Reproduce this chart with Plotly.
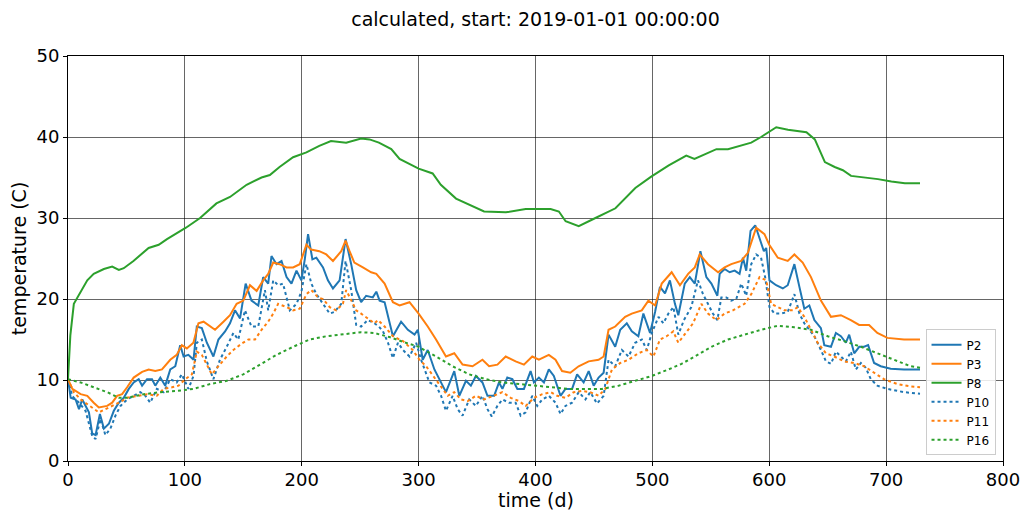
import plotly.graph_objects as go

# ---------------- data ----------------
P2_day = [0, 2.3, 6.5, 9.4, 12.2, 15, 17.9, 20.7, 23.6, 27.3, 30.7, 35, 39.2, 43.5, 47.7, 52, 56.2, 60.5, 63.4, 67.6,
          71.9, 74.7, 79, 83.2, 87.5, 91.8, 96, 98.9, 103, 107.4, 110.2, 114.5, 118.8, 124.4, 128.7, 134.4, 138.6, 142.9,
          147.2, 152, 157, 162.8, 167, 171.3, 174.1, 178.4, 182.7, 187, 191.2, 195.5, 199.7, 202.6, 205.4, 209.1, 212.5,
          218.2, 222.4, 226.7, 232.4, 237.5, 242.3, 246.6, 250.8, 255.1, 260.8, 263.8, 266.6, 270.9, 278, 285, 290.8,
          296.5, 299.3, 303.5, 307.8, 313.5, 319.2, 323.4, 330.5, 334.8, 340.5, 344.7, 349, 354.6, 358.9, 364.6, 368.8,
          371.7, 375.9, 380.2, 384.5, 390.1, 395.8, 398.7, 402.9, 407.2, 411.4, 415.7, 421.4, 425.6, 431.3, 435.6, 441.2,
          445.5, 449.8, 454, 458.3, 462.5, 468.2, 472.5, 478.1, 482.4, 488, 492.3, 498, 502.3, 506.5, 510.8, 515, 519.3,
          522.2, 527.7, 532, 536.3, 541.1, 546.2, 550.5, 555.6, 557.6, 561.8, 566.1, 570.4, 574.6, 577.5, 580.3, 584,
          588, 591.7, 595.4, 597.4, 600.2, 605.9, 611.6, 615.8, 621.5, 625.8, 630, 634.3, 638.6, 644.2, 647.1, 652.8,
          657, 661.3, 665.6, 668.4, 672.7, 677, 681.2, 684.6, 689.7, 695.4, 703.9, 715.3, 729]
P2_val = [10.1, 7.8, 7.6, 6.4, 7.6, 6.8, 6.0, 3.4, 3.2, 5.8, 4.0, 4.6, 6.2, 7.2, 7.8, 8.9, 9.7, 10.1, 9.3, 10.1,
          10.1, 9.3, 10.3, 9.3, 11.3, 11.7, 14.3, 12.9, 13.1, 12.5, 16.6, 16.4, 14.6, 12.9, 15.0, 16.0, 17.0, 18.6,
          17.6, 21.9, 19.8, 19.2, 22.7, 21.9, 25.3, 24.3, 24.7, 22.7, 21.9, 23.5, 22.3, 24.9, 28.0, 24.9, 25.1,
          23.9, 22.3, 21.3, 22.3, 27.4, 24.3, 21.1, 19.6, 20.4, 20.2, 20.9, 19.8, 19.6, 15.4, 17.2, 16.2,
          15.6, 16.2, 12.5, 13.7, 11.3, 9.7, 8.5, 11.1, 8.05, 9.9, 9.3, 10.5, 9.7, 8.05, 8.05, 9.7,
          8.9, 10.3, 10.1, 8.9, 8.9, 11.1, 9.7, 10.3, 9.7, 11.3, 10.5, 8.05, 8.9, 8.9, 10.7, 9.7,
          11.1, 9.3, 10.3, 10.9, 15.6, 14.1, 16.2, 17.0, 16.0, 15.4, 18.2, 15.8, 18.4, 21.5, 20.7, 22.3, 19.4,
          18.0, 21.9, 22.7, 21.9, 25.9, 22.7, 21.9, 20.4, 23.1, 23.7, 23.3, 23.5, 23.1, 25.1, 23.5, 28.4,
          29.1, 27.6, 25.9, 26.3, 22.3, 21.7, 21.3, 21.7, 24.3, 21.5, 18.8, 19.2, 17.4, 16.4, 14.3, 14.1,
          15.8, 15.4, 14.6, 15.6, 13.3, 14.1, 14.1, 14.3, 12.1, 11.7, 11.4, 11.3, 11.3]

P3_day = [0, 3.7, 10.8, 16.5, 22, 26.4, 33.5, 37.8, 42, 46.3, 50.6, 56.2, 63.4, 69, 74.7, 80.4, 87.5, 93, 97.4, 101.7,
          107.3, 111.6, 116, 121.6, 125.8, 133, 138.6, 144.3, 150, 155.7, 161.4, 167, 171.3, 175.6, 181, 187, 192.6,
          198.3, 204, 208, 215, 221, 226.7, 233.8, 237.5, 240.9, 245, 252.3, 259.4, 263.8, 270.9, 278, 283.7, 292.2,
          300, 307.8, 314.9, 323.4, 330.5, 337.6, 346.1, 354.6, 360.3, 367.4, 374.5, 383, 390.1, 397.2, 402.9, 411.4,
          417.1, 422.7, 429.8, 436.9, 445.5, 454, 458.3, 462.5, 468.2, 476.7, 482.4, 490.9, 496.6, 502.3, 508, 516.5,
          523.6, 530.6, 536.3, 540.5, 547.6, 556.2, 561.8, 567.5, 576, 581.7, 588.8, 595.9, 600, 607.3, 615.8, 621.5,
          628.6, 635.7, 644.2, 652.8, 661.3, 669.8, 676.9, 685.4, 692.5, 701.1, 715.3, 729]
P3_val = [10.1, 8.9, 8.25, 8.05, 7.2, 6.6, 6.8, 7.2, 8.05, 8.25, 9.1, 10.3, 11.0, 11.3, 11.1, 11.3, 12.5, 13.1, 14.3, 13.9,
          14.6, 17.0, 17.2, 16.6, 16.2, 17.2, 18.0, 19.4, 19.8, 21.7, 21.0, 22.3, 23.1, 24.5, 24.3, 23.9, 23.9,
          24.3, 26.7, 26.1, 25.9, 25.5, 24.7, 25.9, 27.2, 25.9, 24.5, 23.9, 23.3, 23.1, 21.9, 19.6, 19.2, 19.6,
          18.2, 16.6, 15.0, 12.9, 13.3, 11.9, 11.7, 12.5, 11.7, 11.9, 12.9, 12.3, 11.9, 12.9, 12.5, 13.1,
          12.5, 11.1, 10.9, 11.7, 12.3, 12.5, 12.9, 16.2, 16.6, 17.8, 18.2, 18.6, 19.8, 19.2, 21.9, 23.3,
          21.7, 23.1, 23.9, 25.5, 24.3, 23.3, 23.9, 24.3, 24.7, 25.7, 28.8, 28.0, 26.7, 25.1, 24.7, 25.5,
          24.5, 22.7, 19.8, 17.8, 18.0, 17.4, 16.8, 16.8, 15.8, 15.2, 15.0, 15.0]

P8_day = [0, 2, 5, 11, 16.5, 22, 30.7, 37.8, 43.5, 47.7, 56, 69, 77.6, 84.7, 100.9, 113, 127, 138.6, 152.8, 165.6,
          172.7, 181, 192.6, 204, 215, 225, 238, 250.8, 258, 266, 276.6, 283.7, 300, 312, 319, 332, 343.5, 356, 374.6,
          391.6, 412.9, 420, 425.8, 437, 451.3, 468.4, 485.4, 499, 514, 529, 536, 544.8, 554.8, 564.7, 573, 584.6, 593,
          606, 616, 624.8, 631.8, 639, 647.6, 656, 663, 670, 681.7, 693, 704.5, 716, 729]
P8_val = [10.1, 15.5, 19.4, 21.0, 22.3, 23.1, 23.7, 24.0, 23.6, 23.8, 24.7, 26.3, 26.7, 27.4, 28.8, 30.0, 31.8, 32.6, 34.1,
          35.0, 35.3, 36.3, 37.5, 38.1, 38.9, 39.5, 39.3, 39.8, 39.7, 39.3, 38.5, 37.3, 36.1, 35.5, 34.1, 32.4, 31.6,
          30.8, 30.7, 31.1, 31.1, 30.8, 29.6, 29.0, 30.0, 31.2, 33.7, 35.1, 36.5, 37.7, 37.3, 37.9, 38.5, 38.5, 38.8,
          39.3, 40.0, 41.2, 40.9, 40.7, 40.6, 39.7, 36.9, 36.3, 35.9, 35.2, 35.0, 34.8, 34.5, 34.3, 34.3]

P10_day = [0, 3.7, 9.4, 15, 20.7, 23.6, 27.8, 32, 36.3, 40.6, 44.9, 50.6, 56.2, 61.9, 66.2, 70.4, 76, 81.8, 87.5, 93,
           97.4, 103, 107.4, 110.2, 114.5, 118.8, 124.4, 130, 135.8, 141.5, 145.7, 151.4, 157, 162.8, 168.5, 171.3,
           175.6, 179.8, 184, 189.8, 195.5, 199.7, 204, 208.2, 212.5, 218.2, 223.9, 228, 233.8, 237.5, 242.3, 246.6,
           250.8, 256.5, 262.2, 266, 269.5, 273.8, 278, 282.3, 286.6, 292.2, 297.9, 302.1, 305, 309.2, 314.9, 319.2,
           323.4, 329.1, 333.4, 337.6, 343.3, 349, 354.6, 358.9, 362.6, 367.4, 371.7, 377.3, 383, 387.3, 391.6, 397.2,
           401.5, 405.8, 411.4, 417.1, 421.4, 425.6, 431.3, 437, 442.7, 446.9, 452.6, 458.3, 462.5, 468.2, 473.9,
           479.6, 485.3, 491, 495.2, 499.5, 505.2, 509.4, 513.7, 518, 522.2, 527, 533.3, 539, 543.3, 547.6, 551.8,
           555.6, 559, 563.2, 567.5, 571.8, 576, 580.3, 584.6, 588.8, 593, 596.5, 600.2, 604.5, 610.2, 615.8, 621.5,
           625.8, 630, 634.3, 638.6, 644.2, 648.5, 652.8, 657, 661.3, 665.6, 669.8, 674.1, 678.4, 682.6, 686.9, 692.5,
           701.1, 715.3, 729]
P10_val = [10.1, 8.0, 7.2, 6.2, 3.1, 2.7, 5.2, 3.2, 4.0, 5.6, 6.8, 7.6, 8.05, 8.5, 8.05, 7.2, 8.9, 8.5, 10.1, 9.7,
           10.7, 8.9, 10.5, 14.6, 15.0, 12.3, 10.1, 12.5, 14.1, 15.8, 15.0, 18.6, 16.6, 16.6, 21.1, 18.6,
           22.3, 21.7, 21.9, 18.6, 19.4, 20.9, 24.3, 21.9, 20.6, 19.4, 18.2, 18.4, 19.4, 24.7, 21.1, 16.8,
           16.6, 17.4, 17.0, 16.6, 16.0, 14.6, 12.7, 14.6, 13.7, 12.9, 14.6, 12.5, 11.3, 9.7, 9.3, 8.05,
           6.2, 8.05, 6.4, 5.6, 7.6, 6.8, 8.05, 6.4, 5.5, 6.8, 7.6, 7.2, 7.2, 5.6, 6.0, 8.05,
           6.8, 7.6, 8.05, 7.2, 5.8, 6.8, 7.2, 8.5, 7.6, 8.5, 7.1, 8.05, 12.5, 11.7, 13.7,
           12.9, 14.6, 15.0, 13.7, 15.8, 17.8, 17.0, 18.2, 19.0, 15.6, 17.4, 19.0, 22.3, 20.6, 19.4, 18.2,
           17.4, 20.2, 20.2, 19.8, 20.0, 21.9, 20.4, 24.3, 25.5, 25.1, 22.7, 19.0, 18.2, 18.2, 18.4, 20.6,
           18.2, 17.0, 16.2, 15.4, 13.7, 12.3, 12.0, 13.5, 12.9, 12.3, 13.5, 11.3, 12.1, 11.5, 10.1, 9.3,
           8.9, 8.5, 8.3]

P11_day = [0, 5, 10.8, 16.5, 22, 26.4, 32, 37.8, 43.5, 50.6, 59, 67.6, 76, 81.8, 88.9, 94.6, 100.3, 106, 110.2, 114.5,
           118.8, 123, 128.7, 135.8, 141.5, 148.6, 154.3, 160, 165.6, 171.3, 175.6, 179.8, 187, 192.6, 198.3, 204,
           208.2, 213.9, 218.2, 223.9, 229.5, 235.2, 238, 242.3, 246.6, 250.8, 256.5, 262.2, 265.2, 270.9, 278, 286.6,
           295, 300.7, 306.4, 313.5, 319.2, 324.9, 330.5, 336.2, 341.9, 349, 356.1, 363.2, 371.7, 378.8, 385.9, 391.6,
           398.7, 405.8, 412.9, 418.5, 425.6, 432.7, 439.8, 446.9, 454, 459.7, 465.4, 472.5, 479.6, 488, 495.2, 500.9,
           506.5, 512.2, 517.9, 522.2, 527.7, 534.8, 541.9, 547.6, 554.7, 561.8, 568.9, 578.9, 584.6, 591.7, 597.4,
           601.6, 607.3, 613, 620.1, 624.4, 630, 635.7, 641.4, 648.5, 655.6, 664.1, 672.7, 681.2, 689.7, 698.2, 709.6,
           721, 729]
P11_val = [10.1, 8.5, 7.6, 7.0, 6.4, 6.0, 6.4, 6.8, 7.2, 7.8, 8.05, 8.25, 8.05, 8.9, 9.1, 9.3, 10.1, 10.7, 13.5, 13.1,
           11.9, 10.7, 11.7, 12.9, 13.7, 14.5, 15.0, 15.0, 16.2, 17.2, 18.2, 19.4, 19.0, 18.6, 18.8, 20.6,
           21.1, 20.2, 20.0, 19.0, 18.6, 19.4, 21.1, 19.8, 18.6, 18.2, 17.6, 17.0, 17.4, 16.6, 15.4, 14.8,
           13.7, 12.5, 11.7, 10.3, 9.3, 8.05, 8.5, 7.6, 7.4, 8.05, 7.6, 8.05, 8.5, 7.8, 7.4, 6.8,
           7.8, 8.25, 8.5, 8.05, 7.8, 8.5, 8.65, 8.5, 8.05, 8.9, 11.3, 12.1, 12.5, 13.3, 13.7, 12.9,
           15.0, 15.4, 16.0, 14.6, 15.6, 17.0, 19.4, 18.2, 17.4, 18.2, 18.6, 19.4, 20.6, 22.7, 22.3,
           19.4, 19.0, 18.6, 18.6, 19.0, 17.8, 16.2, 14.6, 13.3, 12.9, 12.3, 12.1, 11.7, 10.9, 10.1, 9.5,
           9.2, 9.1]

P16_day = [0, 10.8, 22, 33.5, 43.5, 50.6, 64.8, 79, 93, 107.4, 121.6, 135.8, 150, 164.2, 178.4, 192.6, 206.8, 221,
           235.2, 250.8, 262, 275, 287, 300, 314.9, 329, 343.3, 357.5, 371.7, 385.9, 400.1, 414.3, 428.5, 442.7,
           456.9, 471.1, 485.3, 499.5, 513.7, 525, 536.3, 550.5, 564.7, 578.9, 593, 607.3, 621.5, 635.7, 650, 664.1,
           678.4, 692.5, 706.7, 720.9, 729]
P16_val = [10.1, 9.7, 9.1, 8.5, 7.8, 7.8, 8.25, 8.5, 8.65, 8.9, 9.5, 9.9, 10.7, 11.9, 13.1, 14.1, 15.0, 15.4,
           15.6, 15.9, 15.8, 15.3, 14.7, 14.1, 12.9, 11.7, 10.7, 10.1, 9.7, 9.5, 9.3, 9.1, 8.9, 8.9,
           8.9, 9.3, 9.9, 10.5, 11.3, 12.0, 12.9, 14.1, 15.0, 15.6, 16.2, 16.7, 16.5, 16.2, 15.4, 14.8,
           14.1, 13.3, 12.5, 11.7, 11.5]

TITLE = "calculated, start: 2019-01-01 00:00:00"
X_LABEL = "time (d)"
Y_LABEL = "temperature (C)"
X_TICKS = [0, 100, 200, 300, 400, 500, 600, 700, 800]
Y_TICKS = [0, 10, 20, 30, 40, 50]

# ---------------- figure ----------------
BLUE, ORANGE, GREEN = "#1f77b4", "#ff7f0e", "#2ca02c"
series = [
    ("P2", P2_day, P2_val, BLUE, "solid"),
    ("P3", P3_day, P3_val, ORANGE, "solid"),
    ("P8", P8_day, P8_val, GREEN, "solid"),
    ("P10", P10_day, P10_val, BLUE, "dot"),
    ("P11", P11_day, P11_val, ORANGE, "dot"),
    ("P16", P16_day, P16_val, GREEN, "dot"),
]

fig = go.Figure()
for name, xs, ys, col, dash in series:
    fig.add_trace(go.Scatter(x=xs, y=ys, mode="lines", name=name,
                             line=dict(color=col, width=2, dash=dash)))

FONT = "DejaVu Sans"
W, H = 1022, 510
L, R, T, B = 68, 19, 56, 49
axis_common = dict(showline=True, linecolor="black", linewidth=1, mirror=True,
                   showgrid=True, gridcolor="rgba(0,0,0,0.6)", gridwidth=1,
                   ticks="outside", ticklen=4, tickcolor="black", zeroline=False,
                   automargin=False,
                   tickfont=dict(family=FONT, size=18, color="black"))

fig.update_layout(
    width=W, height=H,
    margin=dict(l=L, r=R, t=T, b=B, autoexpand=False),
    paper_bgcolor="white", plot_bgcolor="white",
    title=dict(text=TITLE, x=(L + W - R) / 2 / W, xanchor="center", y=0.962, yanchor="middle",
               font=dict(family=FONT, size=19, color="black")),
    xaxis=dict(range=[0, 800], tickvals=X_TICKS, ticklabelstandoff=-2, **axis_common),
    yaxis=dict(range=[0, 50], tickvals=Y_TICKS,
               title=dict(text=Y_LABEL, font=dict(family=FONT, size=19, color="black"), standoff=4),
               **axis_common),
    legend=dict(x=0.992, xanchor="right", y=0.014, yanchor="bottom",
                bgcolor="rgba(255,255,255,0.85)", bordercolor="#cccccc", borderwidth=1,
                font=dict(family=FONT, size=12, color="black"), tracegroupgap=0,
                itemwidth=30),
    showlegend=True,
)

# x-axis title placed in paper pixels so it sits just under the tick labels
fig.add_annotation(text=X_LABEL, xref="paper", yref="paper",
                   x=0.5, y=-(500 - (H - B)) / (H - T - B), xanchor="center", yanchor="middle",
                   showarrow=False, font=dict(family=FONT, size=19, color="black"))

fig.write_html("out.html")
